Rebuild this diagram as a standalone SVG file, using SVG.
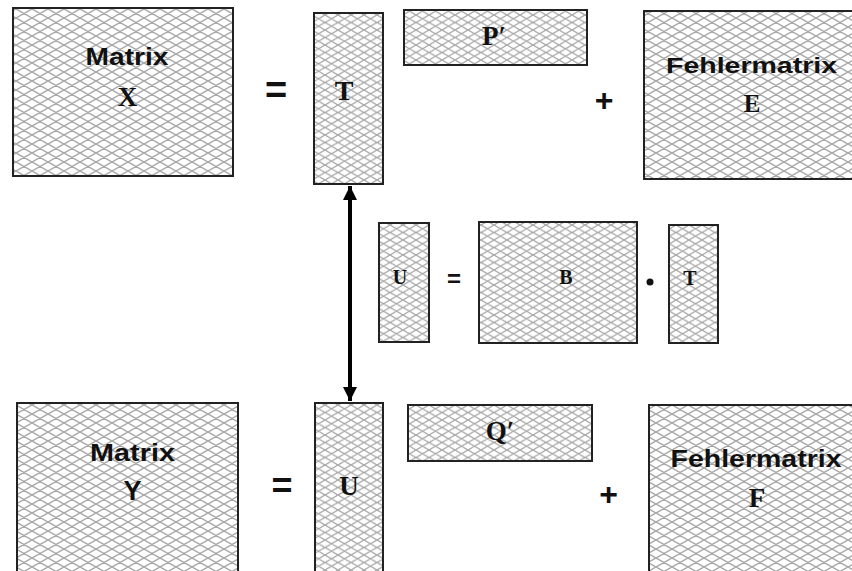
<svg xmlns="http://www.w3.org/2000/svg" width="852" height="571" viewBox="0 0 852 571">
<defs>
<pattern id="hatch" patternUnits="userSpaceOnUse" width="16" height="9">
<path d="M-8,-4.5 L24,13.5 M-8,13.5 L24,-4.5 M-8,4.5 L8,13.5 M8,-4.5 L24,4.5 M-8,4.5 L8,-4.5 M8,13.5 L24,4.5" stroke="#a6a6a6" stroke-width="1.4" fill="none"/>
</pattern>
<pattern id="hatch2" patternUnits="userSpaceOnUse" width="13" height="7.5">
<path d="M-6.5,-3.75 L19.5,11.25 M-6.5,11.25 L19.5,-3.75 M-6.5,3.75 L6.5,11.25 M6.5,-3.75 L19.5,3.75 M-6.5,3.75 L6.5,-3.75 M6.5,11.25 L19.5,3.75" stroke="#a6a6a6" stroke-width="1.3" fill="none"/>
</pattern>
<marker id="ah" viewBox="0 0 10 10" refX="10" refY="5" markerWidth="3.6" markerHeight="3.6" orient="auto-start-reverse" markerUnits="strokeWidth">
<path d="M0,0 L10,5 L0,10 Z" fill="#000"/>
</marker>
</defs>
<style>
.m{fill:url(#hatch);stroke:#222;stroke-width:2}
.m2{fill:url(#hatch2);stroke:#222;stroke-width:2}
.s{font-family:"Liberation Sans",Arial,sans-serif;font-weight:bold;fill:#111;text-anchor:middle}
.r{font-family:"Liberation Serif","Times New Roman",serif;font-weight:bold;fill:#111;text-anchor:middle}
</style>
<rect width="852" height="571" fill="#fff"/>
<g id="matrix-x">
<rect class="m" x="13" y="8" width="220" height="168"/>
<text class="s" x="127" y="65" font-size="23" textLength="83" lengthAdjust="spacingAndGlyphs">Matrix</text>
<text class="r" x="127.5" y="106" font-size="27">X</text>
</g>
<g id="eq-top"><text class="s" x="276" y="103" font-size="38">=</text></g>
<g id="t-top">
<rect class="m2" x="314" y="13" width="69" height="171"/>
<text class="r" x="344" y="100" font-size="28">T</text>
</g>
<g id="p-prime">
<rect class="m2" x="404" y="10" width="183" height="55"/>
<text class="r" x="494" y="45" font-size="27">P′</text>
</g>
<g id="plus-top"><text class="s" x="604" y="111" font-size="32">+</text></g>
<g id="matrix-e">
<rect class="m" x="644" y="11" width="220" height="168"/>
<text class="s" x="751.5" y="73" font-size="22" textLength="171" lengthAdjust="spacingAndGlyphs">Fehlermatrix</text>
<text class="r" x="752" y="112" font-size="25">E</text>
</g>
<g id="u-mid">
<rect class="m2" x="379" y="223" width="50" height="119"/>
<text class="r" x="400" y="284" font-size="20">U</text>
</g>
<g id="eq-mid"><text class="s" x="454" y="287" font-size="24">=</text></g>
<g id="b-mid">
<rect class="m2" x="479" y="222" width="158" height="121"/>
<text class="r" x="566" y="284" font-size="20">B</text>
</g>
<g id="dot-mid"><circle cx="650" cy="282" r="3.5" fill="#111"/></g>
<g id="t-mid">
<rect class="m2" x="669" y="225" width="49" height="118"/>
<text class="r" x="690" y="285" font-size="20">T</text>
</g>
<g id="matrix-y">
<rect class="m" x="17" y="403" width="221" height="180"/>
<text class="s" x="132.5" y="461" font-size="24" textLength="85" lengthAdjust="spacingAndGlyphs">Matrix</text>
<text class="s" x="132.5" y="500" font-size="27">Y</text>
</g>
<g id="eq-bot"><text class="s" x="282" y="498" font-size="36">=</text></g>
<g id="u-bot">
<rect class="m2" x="315" y="403" width="68" height="180"/>
<text class="r" x="349" y="495" font-size="27">U</text>
</g>
<g id="q-prime">
<rect class="m2" x="408" y="405" width="184" height="56"/>
<text class="r" x="500" y="440" font-size="27">Q′</text>
</g>
<g id="plus-bot"><text class="s" x="608.5" y="505" font-size="32">+</text></g>
<g id="matrix-f">
<rect class="m" x="649" y="405" width="220" height="180"/>
<text class="s" x="756" y="467" font-size="24" textLength="171" lengthAdjust="spacingAndGlyphs">Fehlermatrix</text>
<text class="r" x="757" y="507" font-size="27">F</text>
</g>
<g id="connectors">
<line x1="350" y1="186" x2="350" y2="401" stroke="#000" stroke-width="4" marker-start="url(#ah)" marker-end="url(#ah)"/>
</g>
</svg>
